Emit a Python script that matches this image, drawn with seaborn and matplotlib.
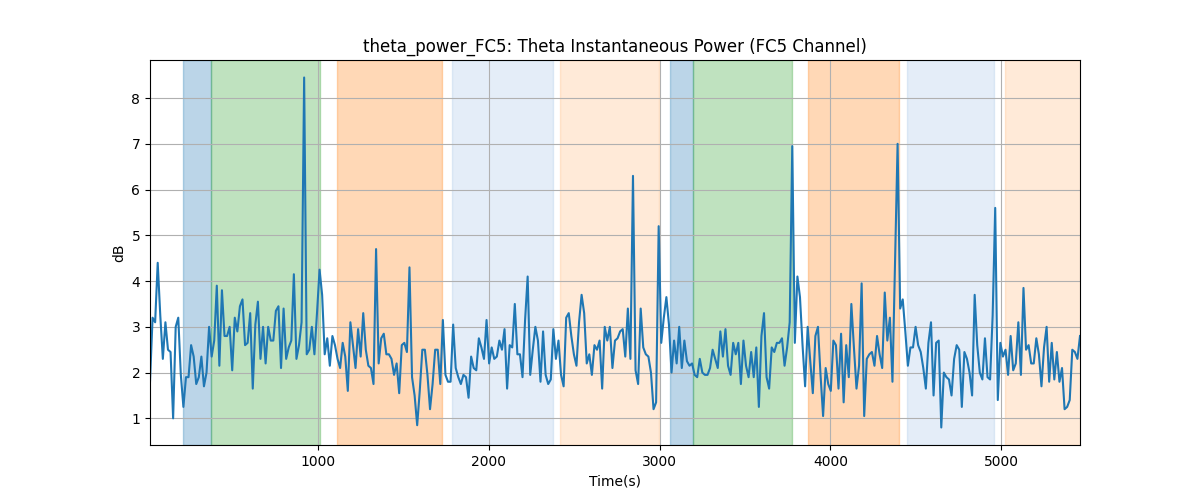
import numpy as np
import pandas as pd
import matplotlib
matplotlib.use("Agg")
import matplotlib.pyplot as plt
import seaborn as sns

# theta power (dB), ~15 s apart
power_db = [
    1.8, 3.2, 3.1, 4.4, 3.25, 2.3, 3.1, 2.5, 2.45, 1.0, 3.0, 3.2, 1.95, 1.25, 1.9,
    1.9, 2.6, 2.35, 1.75, 1.9, 2.35, 1.7, 2.0, 3.0, 2.35, 2.7, 3.9, 2.15, 3.8, 2.8,
    2.8, 3.0, 2.05, 3.2, 2.9, 3.45, 3.6, 2.6, 2.65, 3.3, 1.65, 3.05, 3.55, 2.3, 3.0,
    2.2, 3.0, 2.7, 2.7, 3.35, 3.45, 2.1, 3.4, 2.3, 2.55, 2.7, 4.15, 2.3, 2.6, 3.1,
    8.45, 2.4, 2.5, 3.0, 2.4, 3.3, 4.25, 3.7, 2.4, 2.75, 2.15, 2.8, 2.6, 2.3, 2.1,
    2.65, 2.35, 1.6, 3.1, 2.6, 2.1, 2.95, 2.35, 3.3, 2.5, 2.15, 2.1, 1.75, 4.7, 2.2,
    2.75, 2.85, 2.4, 2.4, 2.3, 1.95, 2.2, 1.55, 2.6, 2.65, 2.45, 4.3, 1.9, 1.5, 0.85,
    1.6, 2.5, 2.5, 1.95, 1.2, 1.75, 2.5, 2.5, 1.75, 3.15, 1.95, 1.8, 1.8, 3.05, 2.1,
    1.9, 1.75, 1.95, 1.9, 1.45, 2.35, 2.1, 2.05, 2.75, 2.55, 2.3, 3.15, 2.2, 2.55, 2.3,
    2.35,
    2.7, 2.5, 2.95, 1.65, 2.6, 2.55, 3.5, 2.4, 2.4, 1.9, 3.15, 4.1, 1.95, 2.5, 3.0,
    2.7, 1.8, 2.9, 1.95, 1.75, 1.85, 2.95, 2.3, 2.7, 1.95, 1.7, 3.2, 3.3, 2.8, 2.4,
    2.15, 3.1, 3.7, 3.3, 2.2, 2.4, 1.95, 2.6, 2.5, 2.7, 1.65, 3.0, 2.7, 3.0, 2.1,
    2.7, 2.75, 2.9, 2.95, 2.35, 3.4, 2.3, 6.3, 2.05, 1.75, 3.4, 2.55, 2.4, 2.35, 2.0,
    1.2, 1.35, 5.2, 2.65, 3.2, 3.65, 3.05, 2.0, 2.7, 2.2, 3.0, 2.1, 2.7, 2.25, 2.15,
    2.2, 1.95, 1.9, 2.3, 2.0, 1.95, 1.95, 2.1, 2.5, 2.3, 2.1, 2.9, 2.35, 2.95, 2.15,
    1.95, 2.65, 2.4, 2.65, 1.75, 2.7, 2.15, 1.9, 2.45, 1.9, 2.55, 1.25, 2.8, 3.3, 1.9,
    1.65, 2.55, 2.45, 2.65, 2.65, 2.75, 2.15, 2.55, 3.1, 6.95, 2.65, 4.1, 3.65, 2.6, 1.7,
    3.0, 2.25, 1.55, 2.8, 3.0, 1.95, 1.05, 2.1, 1.75, 1.6, 2.7, 2.6, 1.65, 2.85, 1.35,
    2.6, 1.9, 3.5, 2.55, 1.65, 2.15, 3.95, 1.05, 2.3, 2.4, 2.45, 2.15, 2.8, 2.4, 2.1,
    3.75, 2.7, 3.2, 1.8, 4.4, 7.0, 3.4, 3.6, 2.9, 2.15, 2.55, 2.55, 3.0, 2.6, 2.45,
    2.1, 1.65, 2.65, 3.1, 1.5, 2.65, 2.7, 0.8, 2.0, 1.9, 1.85, 1.5, 2.3, 2.6, 2.5,
    1.25,
    2.45, 2.3, 2.0, 1.5, 3.7, 2.6, 2.0, 1.85, 2.75, 1.9, 1.85, 3.25, 5.6, 1.4, 2.65,
    2.35, 2.5, 1.95, 2.8, 2.05, 2.2, 3.1, 1.95, 3.85, 2.5, 2.6, 2.2, 2.2, 2.75, 2.4,
    1.7, 2.55, 3.0, 1.8, 2.65, 1.85, 2.45, 1.8, 2.1, 1.2, 1.25, 1.4, 2.5, 2.45, 2.3,
    2.8,
]
t_start, t_end = 16, 5461

# task phases shaded behind the trace: (start, end, colour, alpha)
phase_starts = [208, 372, 1110, 1783, 2415, 3061, 3198, 3868, 4448, 5022]
phase_ends = [372, 1010, 1728, 2374, 2995, 3198, 3772, 4399, 4955, 5600]
phase_colors = ["tab:blue", "tab:green", "tab:orange", "#7aa7dc", "tab:orange",
                "tab:blue", "tab:green", "tab:orange", "#7aa7dc", "tab:orange"]
phase_alpha = [0.3, 0.3, 0.3, 0.2, 0.16, 0.3, 0.3, 0.3, 0.2, 0.16]

df = pd.DataFrame({"time": np.linspace(t_start, t_end, len(power_db)), "power": power_db})

fig, ax = plt.subplots(figsize=(12, 5))
for s, e, c, a in zip(phase_starts, phase_ends, phase_colors, phase_alpha):
    ax.axvspan(s, e, color=c, alpha=a)

sns.lineplot(data=df, x="time", y="power", ax=ax, color="tab:blue")
ax.set_xlim(df["time"].min(), df["time"].max())
ax.grid(True)
ax.set_title("theta_power_FC5: Theta Instantaneous Power (FC5 Channel)")
ax.set_xlabel("Time(s)")
ax.set_ylabel("dB")

plt.savefig("out.png", dpi=100)
plt.close()
